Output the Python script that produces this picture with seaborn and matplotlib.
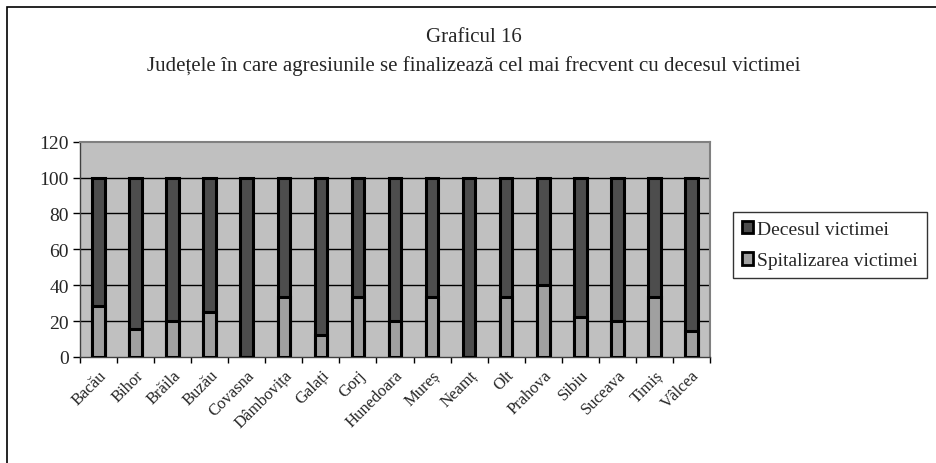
import matplotlib
matplotlib.use("Agg")
import matplotlib.pyplot as plt
import seaborn as sns
import pandas as pd
from matplotlib.patches import Patch, Rectangle

judete = ["Bacău", "Bihor", "Brăila", "Buzău", "Covasna", "Dâmbovița", "Galați", "Gorj",
          "Hunedoara", "Mureș", "Neamț", "Olt", "Prahova", "Sibiu", "Suceava", "Timiș", "Vâlcea"]
spitalizare = [28.6, 15.4, 20.0, 25.0, 0.0, 33.3, 12.5, 33.3,
               20.0, 33.3, 0.0, 33.3, 40.0, 22.2, 20.0, 33.3, 14.3]
deces = [100 - v for v in spitalizare]
totals = [s + d for s, d in zip(spitalizare, deces)]
y_ticks = [0, 20, 40, 60, 80, 100, 120]

title1 = "Graficul 16"
title2 = "Județele în care agresiunile se finalizează cel mai frecvent cu decesul victimei"
legend_labels = ["Decesul victimei", "Spitalizarea victimei"]

dark = "#4d4d4d"
light = "#a0a0a0"
bg = "#c0c0c0"

sns.set_theme(style="white")
plt.rcParams["font.family"] = ["Liberation Serif", "DejaVu Serif"]

df = pd.DataFrame({"judet": judete, "spit": spitalizare, "total": totals})

fig = plt.figure(figsize=(9.36, 4.64), dpi=100)
ax = fig.add_axes([80/936, 1-358/464, 630/936, (358-142.7)/464])
ax.set_facecolor(bg)

sns.barplot(data=df, x="judet", y="total", color=dark, width=0.34, edgecolor="black",
            linewidth=2.2, saturation=1, ax=ax, zorder=3)
sns.barplot(data=df, x="judet", y="spit", color=light, width=0.34, edgecolor="black",
            linewidth=2.2, saturation=1, ax=ax, zorder=4)
for c, col in zip(ax.containers, [dark, light]):
    for bar in c:
        bar.set_facecolor(col)
        bar.set_alpha(1)

ax.set_ylim(0, 120)
ax.set_xlim(-0.5, len(judete) - 0.5)
ax.set_yticks(y_ticks)
ax.set_yticklabels([str(t) for t in y_ticks], fontsize=14)
ax.set_xlabel("")
ax.set_ylabel("")
ax.set_xticks(range(len(judete)))
ax.set_xticklabels(judete, rotation=45, ha="right", rotation_mode="anchor", fontsize=12)
ax.set_xticks([i - 0.5 for i in range(len(judete) + 1)], minor=True)
ax.tick_params(axis="x", which="major", length=0, pad=7)
ax.tick_params(axis="x", which="minor", length=4, width=1, color="black", direction="out", bottom=True)
ax.tick_params(axis="y", which="major", length=5, width=1, color="black", direction="out", left=True, pad=3)

for t in y_ticks[1:-1]:
    ax.axhline(t, color="black", linewidth=1, zorder=1)

for s in ["top", "right"]:
    ax.spines[s].set_color("#808080")
    ax.spines[s].set_linewidth(1.5)
for s in ["left", "bottom"]:
    ax.spines[s].set_color("#404040")
    ax.spines[s].set_linewidth(1)

fig.text(474/936, 1-38/464, title1, ha="center", va="center", fontsize=15)
fig.text(474/936, 1-66/464, title2, ha="center", va="center", fontsize=15)

handles = [Patch(facecolor=dark, edgecolor="black", linewidth=2),
           Patch(facecolor=light, edgecolor="black", linewidth=2)]
leg = fig.legend(handles, legend_labels, loc="upper left",
                 bbox_to_anchor=(733/936, 1-213/464), fontsize=14, frameon=True,
                 fancybox=False, edgecolor="black", handlelength=0.6, handleheight=0.6,
                 handletextpad=0.2, borderpad=0.45, labelspacing=0.75, borderaxespad=0)
leg.get_frame().set_linewidth(1)

fig.patches.append(Rectangle((7/936, -0.1), 1.2, 1 - 8/464 + 0.1, transform=fig.transFigure,
                             fill=False, edgecolor="black", linewidth=1.2))

fig.savefig("out.png", dpi=100)
